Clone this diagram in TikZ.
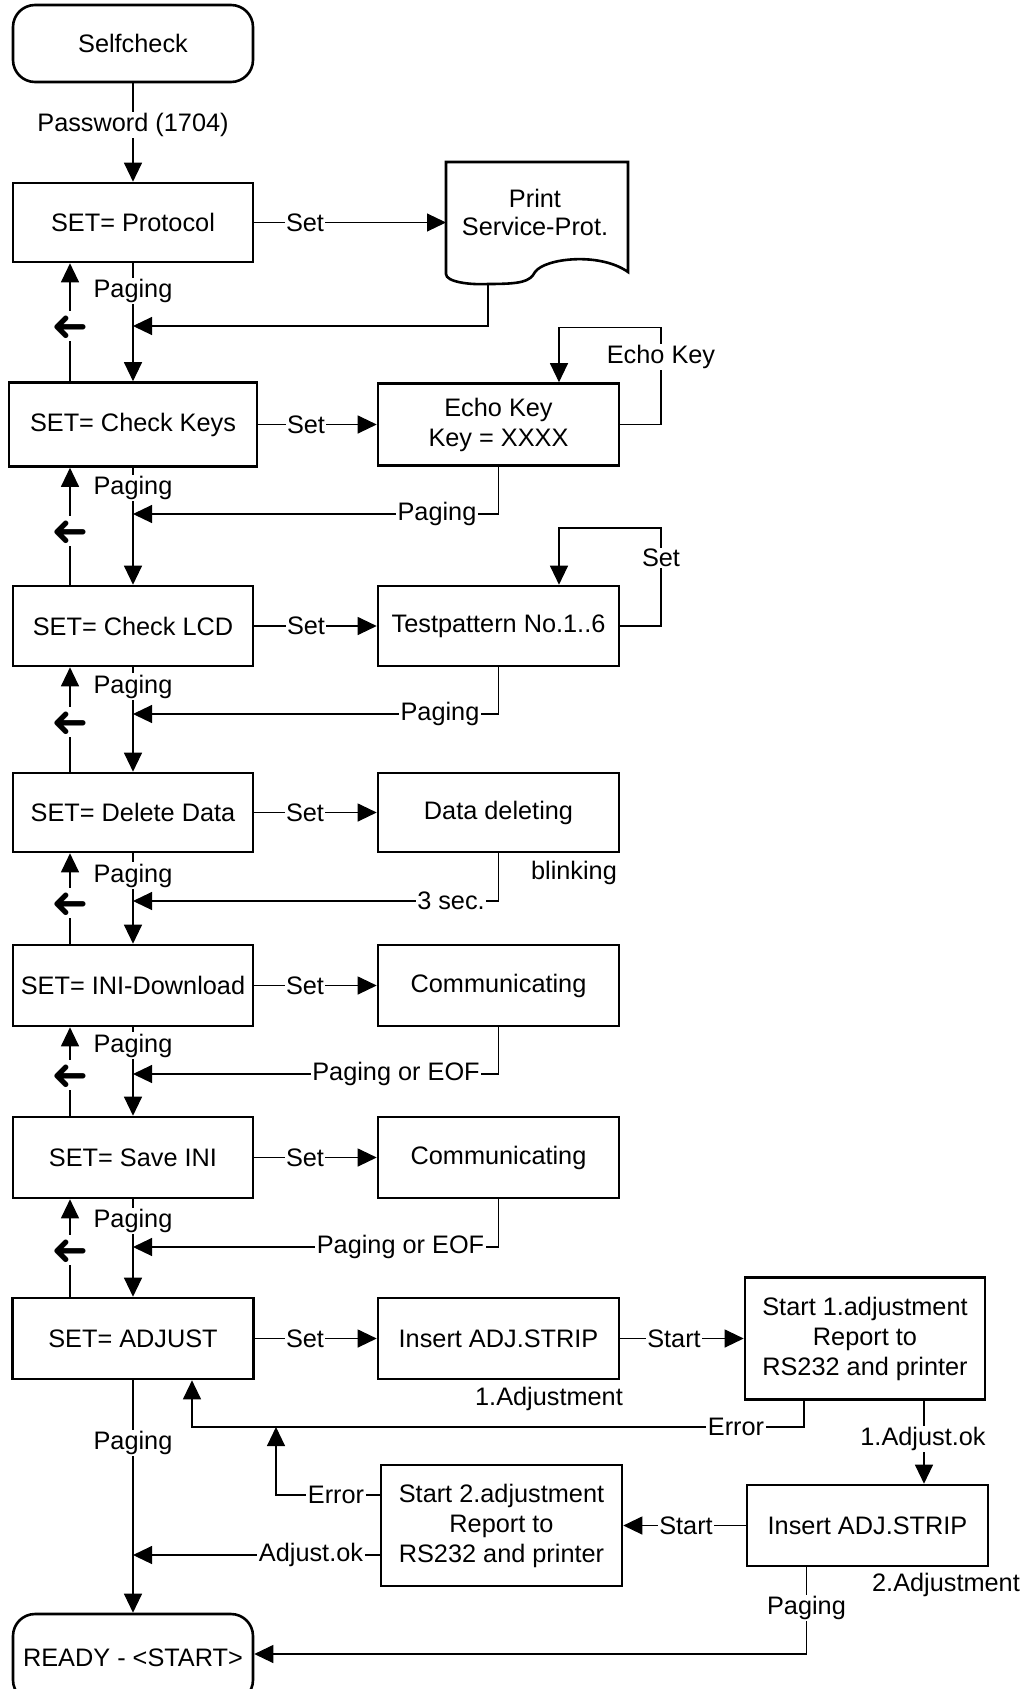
\documentclass[tikz,border=0pt]{standalone}
\usepackage{fontspec}
\setmainfont{Liberation Sans}
\newfontfamily\symfont{DejaVu Sans}
\usetikzlibrary{arrows.meta}
\tikzset{
 every node/.style={font=\fontsize{25.3}{30}\selectfont},
 box/.style={draw, line width=2.6pt, minimum width=240pt, minimum height=80pt, align=center, inner sep=2pt},
 rbox/.style={box, rounded corners=22pt},
 conn/.style={line width=1.1pt},
 arr/.style={conn, -{Triangle[length=19pt,width=18pt]}},
 lbl/.style={fill=white, inner sep=1.5pt},
 back/.style={fill=white, inner sep=2pt, rotate=180, font=\symfont\fontsize{44}{44}\selectfont},
}
\begin{document}
\begin{tikzpicture}[x=1pt,y=-1pt]
\useasboundingbox[fill=white] (0,0) rectangle (1026,1689);
% left column
\node[rbox, minimum height=77pt] (self) at (133,43.5) {Selfcheck};
\node[box, minimum height=79pt] (prot) at (133,222.5) {SET= Protocol};
\node[box, minimum width=248pt, minimum height=84pt] (ckeys) at (133,424.5) {SET= Check Keys};
\node[box] (lcd) at (133,626) {SET= Check LCD};
\node[box, minimum height=79pt] (del) at (133,812.5) {SET= Delete Data};
\node[box, minimum height=81pt] (ini) at (133,985.5) {SET= INI-Download};
\node[box, minimum height=81pt] (save) at (133,1157.5) {SET= Save INI};
\node[box, minimum width=241pt, minimum height=81pt] (adj) at (133,1338.5) {SET= ADJUST};
\node[rbox, minimum height=88pt] (ready) at (133,1658) {READY - <START>};
% right column
\node[inner sep=0pt, align=center, font=\fontsize{25.3}{28}\selectfont] (print) at (535,212) {Print\\Service-Prot.};
\draw[line width=2.6pt] (446,162) -- (628,162) -- (628,272) .. controls (600,252) and (545,258) .. (535,272) .. controls (530,282) and (520,284) .. (488,284) .. controls (470,285) and (446,282) .. (446,274) -- cycle;
\node[box, minimum width=241pt, minimum height=82pt] (echo) at (498.5,424.5) {Echo Key\\Key = XXXX};
\node[box, minimum width=241pt] (test) at (498.5,626) {Testpattern No.1..6};
\node[box, minimum width=241pt, minimum height=79pt] (deld) at (498.5,812.5) {Data deleting};
\node[box, minimum width=241pt, minimum height=81pt] (comm1) at (498.5,985.5) {Communicating};
\node[box, minimum width=241pt, minimum height=81pt] (comm2) at (498.5,1157.5) {Communicating};
\node[box, minimum width=241pt, minimum height=81pt] (ins1) at (498.5,1338.5) {Insert ADJ.STRIP};
\node[box, minimum height=122pt] (start1) at (865,1338.5) {Start 1.adjustment\\Report to\\RS232 and printer};
\node[box, minimum width=241pt, minimum height=81pt] (ins2) at (867.5,1525.5) {Insert ADJ.STRIP};
\node[box, minimum width=241pt, minimum height=121pt] (start2) at (501.5,1525.5) {Start 2.adjustment\\Report to\\RS232 and printer};
% coordinates
\coordinate (rx) at (70,0);
\coordinate (docl) at (446,0);
\coordinate (printb) at (488,284);
\coordinate (j1) at (133,326);
\coordinate (j2) at (133,514);
\coordinate (j3) at (133,714);
\coordinate (j4) at (133,901);
\coordinate (j5) at (133,1074);
\coordinate (j6) at (133,1247);
\coordinate (l1) at (661,327.6);
\coordinate (l2) at (661,528);
\coordinate (e1) at (192,1427);
\coordinate (a1) at (924,0);
\coordinate (e2) at (276,1427);
\coordinate (e2s) at (0,1495);
\coordinate (ok) at (133,1555);
\coordinate (rd) at (0,1654);
% main line
\draw[arr] (self.south) -- (prot.north);
\draw[arr] (prot.south) -- (ckeys.north);
\draw[arr] (ckeys.south) -- (lcd.north);
\draw[arr] (lcd.south) -- (del.north);
\draw[arr] (del.south) -- (ini.north);
\draw[arr] (ini.south) -- (save.north);
\draw[arr] (save.south) -- (adj.north);
\draw[arr] (adj.south) -- (ready.north);
% return lines
\draw[arr] (ckeys.north -| rx) -- (prot.south -| rx);
\draw[arr] (lcd.north -| rx) -- (ckeys.south -| rx);
\draw[arr] (del.north -| rx) -- (lcd.south -| rx);
\draw[arr] (ini.north -| rx) -- (del.south -| rx);
\draw[arr] (save.north -| rx) -- (ini.south -| rx);
\draw[arr] (adj.north -| rx) -- (save.south -| rx);
% set arrows
\draw[arr] (prot.east) -- (prot.east -| docl);
\draw[arr] (ckeys.east) -- (echo.west);
\draw[arr] (lcd.east) -- (test.west);
\draw[arr] (del.east) -- (deld.west);
\draw[arr] (ini.east) -- (comm1.west);
\draw[arr] (save.east) -- (comm2.west);
\draw[arr] (adj.east) -- (ins1.west);
\draw[arr] (ins1.east) -- (start1.west);
% back to main line
\draw[arr] (printb) |- (j1);
\draw[arr] (echo.south) |- (j2);
\draw[arr] (test.south) |- (j3);
\draw[arr] (deld.south) |- (j4);
\draw[arr] (comm1.south) |- (j5);
\draw[arr] (comm2.south) |- (j6);
% loops
\draw[arr] (echo.east) -| (l1) -| ([xshift=60.5pt]echo.north);
\draw[arr] (test.east) -| (l2) -| ([xshift=60.5pt]test.north);
% adjust section
\draw[arr] ([xshift=-61pt]start1.south) |- (e1) -- (adj.south -| e1);
\draw[arr] (start1.south -| a1) -- (ins2.north -| a1);
\draw[arr] (ins2.west) -- (start2.east);
\draw[arr] (start2.west |- e2s) -| (e2);
\draw[arr] (start2.west |- ok) -- (ok);
\draw[arr] ([xshift=-61pt]ins2.south) |- (ready.east |- rd);
% labels
\node[lbl] (lpw) at (133,125) {Password (1704)};
\node[lbl] (ls1) at (305,222.5) {Set};
\node[lbl] (ls2) at (306,424.5) {Set};
\node[lbl] (ls3) at (306,626) {Set};
\node[lbl] (ls4) at (305,812.5) {Set};
\node[lbl] (ls5) at (305,985.5) {Set};
\node[lbl] (ls6) at (305,1157.5) {Set};
\node[lbl] (ls7) at (305,1338.5) {Set};
\node[lbl] (lp1) at (133,291) {Paging};
\node[lbl] (lp2) at (133,488) {Paging};
\node[lbl] (lp3) at (133,686.5) {Paging};
\node[lbl] (lp4) at (133,875.7) {Paging};
\node[lbl] (lp5) at (133,1045.7) {Paging};
\node[lbl] (lp6) at (133,1221) {Paging};
\node[lbl] (lp7) at (133,1443) {Paging};
\node[back] (b1) at (70,326) {➜};
\node[back] (b2) at (70,531) {➜};
\node[back] (b3) at (70,722) {➜};
\node[back] (b4) at (70,903) {➜};
\node[back] (b5) at (70,1075) {➜};
\node[back] (b6) at (70,1250) {➜};
\node[lbl] (lek) at (661,357) {Echo Key};
\node[lbl] (lset) at (661,558) {Set};
\node[lbl] (lr2) at (437,514) {Paging};
\node[lbl] (lr3) at (440,714) {Paging};
\node[lbl] (lr4) at (451,901) {3 sec.};
\node (lblink) at (574,873) {blinking};
\node[lbl] (lr5) at (396,1074) {Paging or EOF};
\node[lbl] (lr6) at (400.5,1247) {Paging or EOF};
\node[lbl] (lst1) at (674,1338.5) {Start};
\node (ladj1) at (549,1399) {1.Adjustment};
\node[lbl] (lerr1) at (736,1427) {Error};
\node[lbl] (lok1) at (923,1439) {1.Adjust.ok};
\node[lbl] (lst2) at (686,1525.5) {Start};
\node[lbl] (lerr2) at (336,1495) {Error};
\node[lbl] (lok2) at (311,1555) {Adjust.ok};
\node[lbl] (lp8) at (806.5,1608) {Paging};
\node (ladj2) at (946,1585) {2.Adjustment};
\end{tikzpicture}
\end{document}
